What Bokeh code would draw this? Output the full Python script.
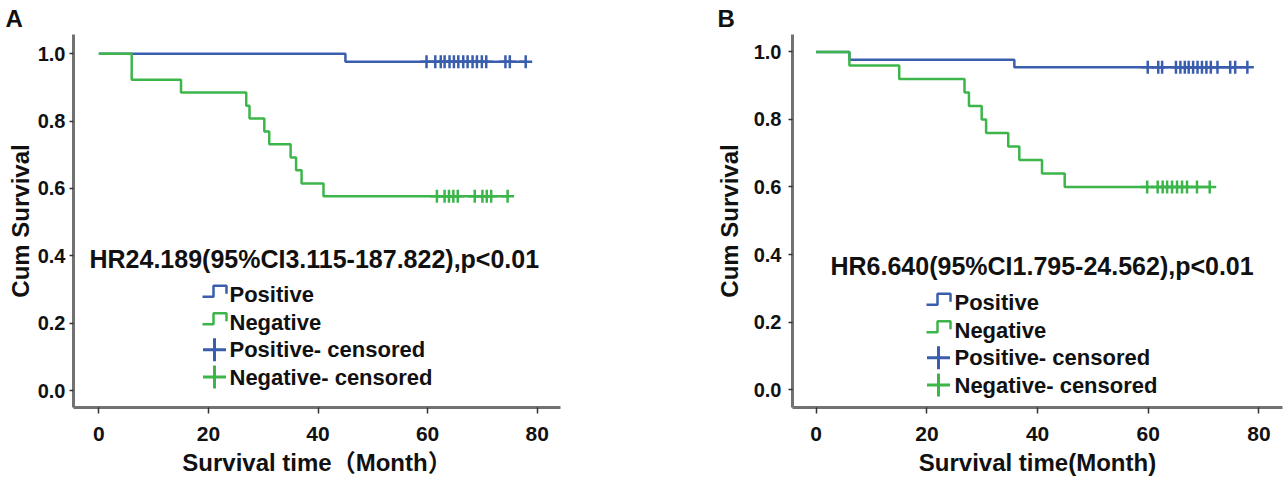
from bokeh.plotting import figure
from bokeh.models import Label, Range1d, FixedTicker, PrintfTickFormatter
from bokeh.layouts import row
from bokeh.embed import file_html
from bokeh.resources import INLINE

# ---------------- data ----------------
# Panel A
a_pos_times = [0, 45.0]
a_pos_surv = [1.0, 0.976]
a_pos_censor = [59.8, 61.4, 62.4, 63.1, 64.0, 64.8, 65.6, 66.5, 67.3, 68.2,
                69.0, 69.9, 70.7, 74.2, 75.0, 77.9]
a_neg_times = [0, 6.0, 15.0, 26.9, 27.5, 30.2, 31.1, 35.0, 36.0, 37.0, 41.0]
a_neg_surv = [1.0, 0.923, 0.885, 0.846, 0.808, 0.769, 0.731, 0.692, 0.654, 0.615, 0.577]
a_neg_censor = [61.7, 63.1, 63.9, 64.7, 65.5, 68.6, 70.0, 70.8, 71.6, 74.6]
a_hr = "HR24.189(95%CI3.115-187.822),p<0.01"
a_xlabel = "Survival time\uff08Month\uff09"

# Panel B
b_pos_times = [0, 6.0, 35.8]
b_pos_surv = [1.0, 0.977, 0.955]
b_pos_censor = [59.9, 61.8, 62.5, 65.0, 65.8, 66.6, 67.3, 68.1, 68.9, 69.7,
                70.5, 71.3, 72.5, 74.8, 75.7, 77.9]
b_neg_times = [0, 6.0, 15.0, 26.8, 27.6, 29.9, 30.7, 34.7, 36.7, 40.8, 44.9]
b_neg_surv = [1.0, 0.96, 0.92, 0.88, 0.84, 0.80, 0.76, 0.72, 0.68, 0.64, 0.60]
b_neg_censor = [59.8, 61.7, 62.6, 63.4, 64.3, 65.2, 66.1, 67.0, 68.8, 71.1]
b_hr = "HR6.640(95%CI1.795-24.562),p<0.01"
b_xlabel = "Survival time(Month)"

x_ticks = [0, 20, 40, 60, 80]
y_ticks = [0.0, 0.2, 0.4, 0.6, 0.8, 1.0]
y_label = "Cum Survival"
legend_labels = ["Positive", "Negative", "Positive- censored", "Negative- censored"]

# ---------------- style ----------------
BLUE = "#3a5dad"
GREEN = "#3cb54b"
AXIS = "#727272"
TXT = "#111111"
FONT = "Liberation Sans, Noto Sans CJK SC"
H = 482
TOP = 33
FRAME_H = 374


def panel(letter, hr, xlabel, pos_t, pos_s, pos_c, neg_t, neg_s, neg_c, g):
    p = figure(width=g["width"], height=H,
               x_range=Range1d(g["x0"], g["x1"]), y_range=Range1d(g["y0"], g["y1"]),
               output_backend="svg", toolbar_location=None,
               min_border_left=g["bl"], min_border_right=g["br"],
               min_border_top=TOP, min_border_bottom=H - TOP - FRAME_H,
               title=letter)
    p.title.text_font = FONT
    p.title.text_font_style = "bold"
    p.title.text_font_size = "24px"
    p.title.text_color = TXT
    p.title.align = "left"
    p.title.offset = g["letter_off"]
    p.title.standoff = 5

    p.outline_line_color = None
    p.xgrid.visible = False
    p.ygrid.visible = False
    p.background_fill_color = "white"
    p.border_fill_color = "white"

    for ax in (p.xaxis[0], p.yaxis[0]):
        ax.axis_line_width = 3
        ax.axis_line_color = AXIS
        ax.major_tick_line_color = "#333333"
        ax.major_tick_line_width = 1.5
        ax.major_tick_in = 0
        ax.minor_tick_line_color = None
        ax.major_label_text_font = FONT
        ax.major_label_text_font_style = "bold"
        ax.major_label_text_color = TXT
        ax.axis_label_text_font = FONT
        ax.axis_label_text_font_style = "bold"
        ax.axis_label_text_color = TXT
        ax.axis_label_text_font_size = "24px"

    p.xaxis.ticker = FixedTicker(ticks=x_ticks)
    p.xaxis.major_tick_out = 6
    p.xaxis.major_label_text_font_size = "21px"
    p.xaxis.major_label_standoff = 13
    p.xaxis.axis_label = xlabel
    p.xaxis.axis_label_standoff = 5

    p.yaxis.ticker = FixedTicker(ticks=y_ticks)
    p.yaxis.formatter = PrintfTickFormatter(format="%.1f")
    p.yaxis.major_tick_out = 4
    p.yaxis.major_label_text_font_size = "20px"
    p.yaxis.major_label_standoff = g["yls"]
    p.yaxis.axis_label = y_label
    p.yaxis.axis_label_standoff = g["yas"]

    # survival curves
    end_p = max(pos_c)
    end_n = max(neg_c)
    p.step(pos_t + [end_p], pos_s + [pos_s[-1]], mode="after", line_width=2.5, color=BLUE)
    p.step(neg_t + [end_n], neg_s + [neg_s[-1]], mode="after", line_width=2.5, color=GREEN)
    p.scatter(pos_c, [pos_s[-1]] * len(pos_c), marker="cross", size=13,
              line_width=2.5, color=BLUE)
    p.scatter(neg_c, [neg_s[-1]] * len(neg_c), marker="cross", size=13,
              line_width=2.5, color=GREEN)

    # hazard-ratio text
    p.add_layout(Label(x=g["hr_x"], y=g["hr_y"], x_units="screen", y_units="screen",
                       text=hr, text_font=FONT, text_font_style="bold",
                       text_font_size="25px", text_color=TXT, text_baseline="middle"))

    # legend
    fw = g["width"] - g["bl"] - g["br"]
    sx = (g["x1"] - g["x0"]) / fw
    sy = (g["y1"] - g["y0"]) / FRAME_H
    colors = [BLUE, GREEN, BLUE, GREEN]
    for i, (lab, col) in enumerate(zip(legend_labels, colors)):
        cy = g["rows"][i]
        ix = g["icon_x"]
        if i < 2:
            px = [0, 11, 11, 24, 24]
            py = [-2, -2, 9, 9, 1]
            p.line([g["x0"] + (ix + a) * sx for a in px],
                   [g["y0"] + (cy + b) * sy for b in py],
                   line_width=2.5, color=col)
        else:
            p.scatter([g["x0"] + (ix + 12) * sx], [g["y0"] + cy * sy],
                      marker="cross", size=23, line_width=3, color=col)
        p.add_layout(Label(x=g["text_x"], y=cy, x_units="screen", y_units="screen",
                           text=lab, text_font=FONT, text_font_style="bold",
                           text_font_size="22px", text_color=TXT, text_baseline="middle"))
    return p


ga = dict(width=668, bl=73, br=108, x0=-4.62, x1=84.25, y0=-0.0503, y1=1.0572,
          yls=4, yas=1, letter_off=-68, hr_x=16, hr_y=149,
          icon_x=129, text_x=156, rows=[113, 85.5, 58, 30.5])
gb = dict(width=620, bl=124, br=6, x0=-4.28, x1=84.25, y0=-0.0532, y1=1.0517,
          yls=7, yas=8, letter_off=-75, hr_x=38, hr_y=142,
          icon_x=134, text_x=162, rows=[105, 77.5, 50, 22.5])

pa = panel("A", a_hr, a_xlabel, a_pos_times, a_pos_surv, a_pos_censor,
           a_neg_times, a_neg_surv, a_neg_censor, ga)
pb = panel("B", b_hr, b_xlabel, b_pos_times, b_pos_surv, b_pos_censor,
           b_neg_times, b_neg_surv, b_neg_censor, gb)

layout = row(pa, pb)
open("out.html", "w").write(file_html(layout, INLINE))
